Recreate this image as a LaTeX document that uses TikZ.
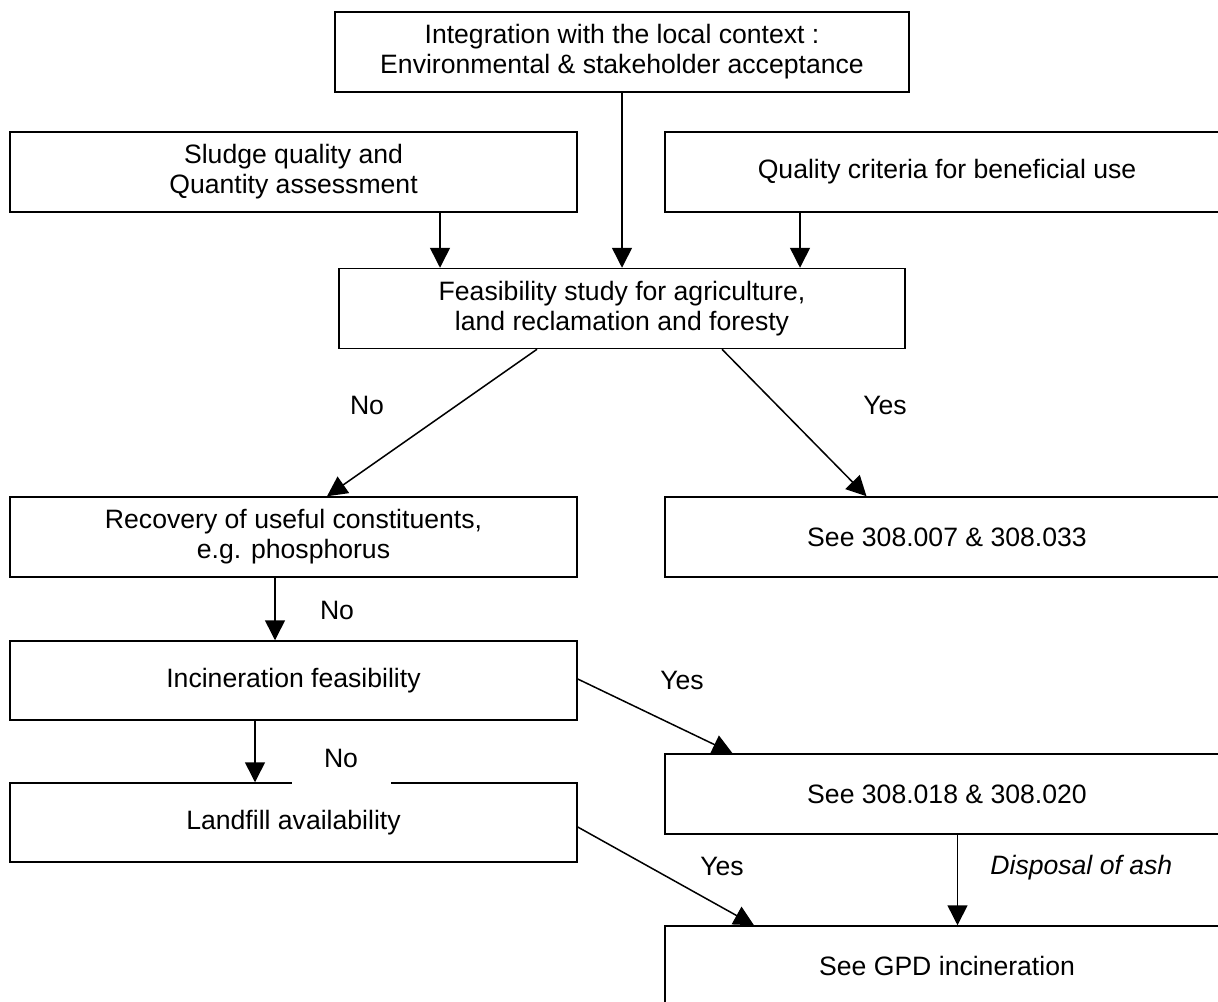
\documentclass[tikz,border=0pt]{standalone}
\usepackage{fontspec}
\setmainfont{Liberation Sans}
\usetikzlibrary{arrows.meta,positioning}
\tikzset{
  >={Triangle[length=10pt,width=10pt]},
  blk/.style={rectangle,draw=black,line width=.75pt,align=center,inner sep=0pt,
    minimum width=283.5pt,minimum height=40pt,font=\fontsize{13.3}{15}\selectfont},
  wide/.style={blk,minimum width=282pt},
  flow/.style={->,line width=.75pt,draw=black},
  lab/.style={font=\fontsize{13.3}{15}\selectfont,inner sep=1pt},
  gaplab/.style={lab,fill=white,minimum width=49.5pt,minimum height=28.5pt}
}
\begin{document}
\begin{tikzpicture}[x=.5pt,y=-.5pt]
  \useasboundingbox (0,0) rectangle (1218,1001);
  % boxes
  \node[blk,minimum width=287pt] (ctx) at (622,52) {Integration with the local context :\\Environmental \& stakeholder acceptance};
  \node[blk] (sludge) at (293.5,172) {Sludge quality and\\Quantity assessment};
  \node[wide] (crit) at (947,172) {Quality criteria for beneficial use};
  \node[blk,minimum width=283pt] (feas) at (622,308.5) {Feasibility study for agriculture,\\land reclamation and foresty};
  \node[blk] (recov) at (293.5,537) {Recovery of useful constituents,\\e.g. phosphorus};
  \node[wide] (see1) at (947,537) {See 308.007 \& 308.033};
  \node[blk,minimum height=39.5pt] (incin) at (293.5,680.5) {Incineration feasibility};
  \node[wide] (see2) at (947,794) {See 308.018 \& 308.020};
  \node[blk,minimum height=39.5pt] (landf) at (293.5,822.5) {Landfill availability};
  \node[wide] (gpd) at (947,966) {See GPD incineration};
  % connectors
  \draw[flow] (ctx.south) -- (feas.north);
  \draw[flow] ([xshift=73.25pt]sludge.south) -- ([xshift=-91pt]feas.north);
  \draw[flow] ([xshift=-73.5pt]crit.south) -- ([xshift=89pt]feas.north);
  \draw[flow] ([xshift=-42.5pt]feas.south) -- ([xshift=16.75pt]recov.north);
  \draw[flow] ([xshift=50pt]feas.south) -- ([xshift=-40.25pt]see1.north);
  \draw[flow] ([xshift=-9.25pt]recov.south) -- ([xshift=-9.25pt]incin.north);
  \draw[flow] ([yshift=.75pt]incin.east) -- ([xshift=-107.25pt]see2.north);
  \draw[flow] ([xshift=-19.25pt]incin.south) -- ([xshift=-19.25pt]landf.north);
  \draw[flow] ([yshift=-2.25pt]landf.east) -- ([xshift=-96.5pt]gpd.north);
  \draw[flow] ([xshift=5.25pt]see2.south) -- ([xshift=5.25pt]gpd.north);
  % labels
  \node[lab] (no1) at (367,405) {No};
  \node[lab] (yes1) at (885,405) {Yes};
  \node[lab] (no2) at (337,610) {No};
  \node[lab] (yes2) at (682,680) {Yes};
  \node[gaplab] (no3) at (341,758) {No};
  \node[lab] (yes3) at (722,866) {Yes};
  \node[lab,anchor=west,font=\fontsize{13.3}{15}\selectfont\itshape] (ash) at (988,868) {Disposal of ash};
\end{tikzpicture}
\end{document}
